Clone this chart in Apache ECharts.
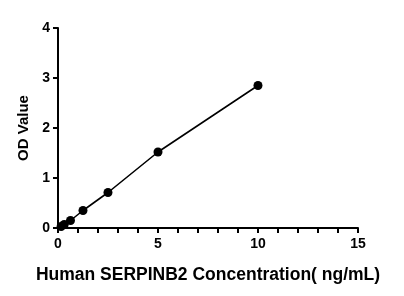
<!DOCTYPE html>
<html><head><meta charset="utf-8">
<script src="https://cdn.jsdelivr.net/npm/echarts@6/dist/echarts.min.js"></script>
<style>html,body{margin:0;padding:0;background:#fff}#c{width:404px;height:296px}</style>
</head><body><div id="c"></div>
<script>
const concentrations = [0.156, 0.3125, 0.625, 1.25, 2.5, 5, 10];
const odValues = [0.03, 0.07, 0.15, 0.35, 0.71, 1.52, 2.85];
const xTicks = [0, 5, 10, 15];
const yTicks = [0, 1, 2, 3, 4];
const xTitle = 'Human SERPINB2 Concentration( ng/mL)';
const yTitle = 'OD Value';

const font = 'Liberation Sans, Arial, sans-serif';
const chart = echarts.init(document.getElementById('c'), null, {renderer: 'canvas'});
chart.setOption({
  animation: false,
  grid: {left: 58, right: 46, top: 28, bottom: 68, containLabel: false},
  xAxis: {
    type: 'value', min: 0, max: 15, interval: 5,
    axisLine: {lineStyle: {color: '#000', width: 2}},
    axisTick: {show: true, length: 5, lineStyle: {color: '#000', width: 2}},
    minorTick: {show: true, splitNumber: 5, length: 5, lineStyle: {color: '#000', width: 2}},
    splitLine: {show: false},
    axisLabel: {color: '#000', fontFamily: font, fontWeight: 'bold', fontSize: 14, margin: 9},
    name: xTitle, nameLocation: 'middle', nameGap: 38,
    nameTextStyle: {color: '#000', fontFamily: font, fontWeight: 'bold', fontSize: 17.5}
  },
  yAxis: {
    type: 'value', min: 0, max: 4, interval: 1,
    axisLine: {show: true, lineStyle: {color: '#000', width: 2}},
    axisTick: {show: true, length: 5, lineStyle: {color: '#000', width: 2}},
    splitLine: {show: false},
    axisLabel: {color: '#000', fontFamily: font, fontWeight: 'bold', fontSize: 14, margin: 8},
    name: yTitle, nameLocation: 'middle', nameGap: 24, nameRotate: 90,
    nameTextStyle: {color: '#000', fontFamily: font, fontWeight: 'bold', fontSize: 15}
  },
  series: [{
    type: 'line',
    data: concentrations.map((c, i) => [c, odValues[i]]),
    symbol: 'circle', symbolSize: 9,
    itemStyle: {color: '#000'},
    lineStyle: {color: '#000', width: 1.6}
  }]
});
</script></body></html>
